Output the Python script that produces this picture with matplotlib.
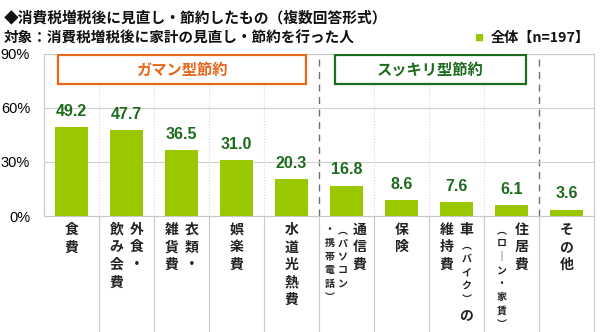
import matplotlib
matplotlib.use("Agg")
import matplotlib.pyplot as plt
from matplotlib.patches import Rectangle

plt.rcParams['font.family'] = ['Noto Sans CJK JP', 'DejaVu Sans']

# data
values = [49.2, 47.7, 36.5, 31.0, 20.3, 16.8, 8.6, 7.6, 6.1, 3.6]
# each label: list of columns (right to left), each column: list of (text, small?)
labels = [
    [[("食費", 0)]],
    [[("外食・", 0)], [("飲み会費", 0)]],
    [[("衣類・", 0)], [("雑貨費", 0)]],
    [[("娯楽費", 0)]],
    [[("水道光熱費", 0)]],
    [[("通信費", 0)], [("︵パソコン", 1)], [("・携帯電話︶", 1)]],
    [[("保険", 0)]],
    [[("車", 0), ("︵バイク︶", 1), ("の", 0)], [("維持費", 0)]],
    [[("住居費", 0)], [("︵ロ｜ン・家賃︶", 1)]],
    [[("その他", 0)]],
]
col_offsets = {1: [0], 2: [10, -10], 3: [13, -4, -17]}  # px
yticks = [0, 30, 60, 90]
bar_color = '#99c700'
green = '#1d6b1d'
orange = '#e8671a'

fig = plt.figure(figsize=(6, 3.32), dpi=100)
ax = fig.add_axes([44/600, 1-216/332, 550/600, 162.5/332])

x = range(len(values))
ax.bar(x, values, width=0.6, color=bar_color, zorder=3)
for i, v in enumerate(values):
    ax.annotate(f"{v:.1f}", (i, v), xytext=(0, 6), textcoords='offset points',
                ha='center', va='bottom', fontsize=11.5, fontweight='bold',
                color=green, family=['Liberation Sans', 'DejaVu Sans'])

ax.set_xlim(-0.5, len(values)-0.5)
ax.set_ylim(0, 90)
ax.set_yticks(yticks)
ax.set_yticklabels([f"{t}%" for t in yticks], fontsize=10.5,
                   family=['Liberation Sans', 'DejaVu Sans'])
ax.set_xticks([])
ax.tick_params(axis='y', length=0, pad=10)
for s in ax.spines.values():
    s.set_color('#c8c8c8')
    s.set_linewidth(0.8)
ax.yaxis.grid(True, color='#d0d0d0', linewidth=0.8, zorder=0)

# vertical separators
trans = ax.get_xaxis_transform()
for b in range(1, len(values)):
    xb = b - 0.5
    if b in (5, 9):
        ax.plot([xb, xb], [0, 1], transform=trans, color='#707070',
                linestyle=(0, (5, 4)), linewidth=1.0, zorder=1)
    else:
        ax.plot([xb, xb], [0, 1], transform=trans, color='#d8d8d8',
                linestyle=':', linewidth=0.8, zorder=1)
    ax.plot([xb, xb], [-0.72, 0], transform=trans, color='#c8c8c8',
            linewidth=0.8, clip_on=False)
ax.plot([len(values)-0.5]*2, [-0.72, 0], transform=trans, color='#c8c8c8',
        linewidth=0.8, clip_on=False)

# group boxes
for x0, x1, txt, col in [(-0.245, 4.26, "ガマン型節約", orange),
                         (4.79, 8.26, "スッキリ型節約", green)]:
    ax.add_patch(Rectangle((x0, 73.2), x1-x0, 15.8, facecolor='white',
                           edgecolor=col, linewidth=1.6, zorder=4))
    ax.text((x0+x1)/2, 81.1, txt, ha='center', va='center', fontsize=11,
            fontweight='bold', color=col, zorder=5)

# vertical category labels
big_step, small_step = 12.6, 9.7
for i, cols in enumerate(labels):
    offs = col_offsets[len(cols)]
    for col, dx in zip(cols, offs):
        first_small = col[0][1]
        top = -10 + (small_step if first_small else big_step) / 2
        for text, small in col:
            step = small_step if small else big_step
            for ch in text:
                ax.annotate(ch, (i, 0), xycoords=trans,
                            xytext=(dx*0.72, top - step/2), textcoords='offset points',
                            ha='center', va='center', fontsize=7.2 if small else 10,
                            fontweight='bold', color='#222222', annotation_clip=False)
                top -= step

# titles and legend
fig.text(4/600, 1-17/332, "◆消費税増税後に見直し・節約したもの（複数回答形式）",
         ha='left', va='center', fontsize=10.6, fontweight='bold', color='#111111')
fig.text(4/600, 1-38/332, "対象：消費税増税後に家計の見直し・節約を行った人",
         ha='left', va='center', fontsize=10.5, fontweight='bold', color='#111111')
fig.text(474/600, 1-38/332, "■", ha='left', va='center', fontsize=6.5,
         color=bar_color)
fig.text(590/600, 1-38/332, "全体【n=197】", ha='right', va='center', fontsize=10.2,
         fontweight='bold', color='#111111')

fig.savefig("out.png", dpi=100)
